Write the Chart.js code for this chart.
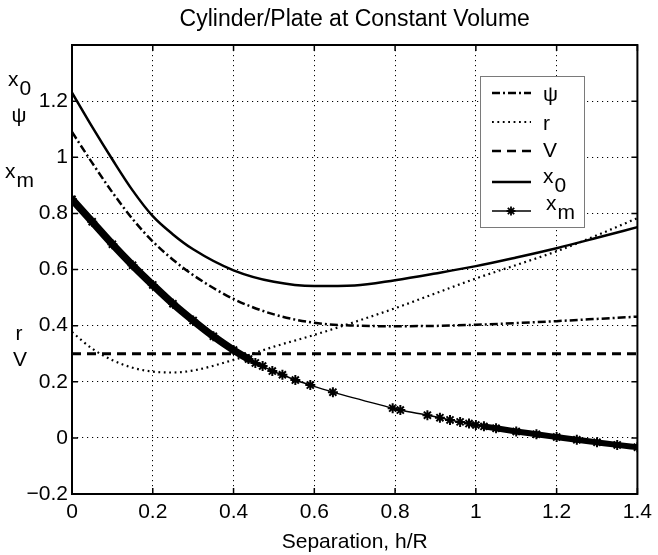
<!DOCTYPE html>
<html>
<head>
<meta charset="utf-8">
<script src="https://cdn.jsdelivr.net/npm/chart.js@4.4.1/dist/chart.umd.min.js"></script>
<style>
  html, body { margin: 0; padding: 0; background: #fff; }
  #wrap { position: relative; width: 658px; height: 555px; }
</style>
</head>
<body>
<div id="wrap"><canvas id="sepChart"></canvas></div>
<script>
// separation h/R, shared by psi, r, V and x0
const sepX = [0, 0.05, 0.1, 0.15, 0.2, 0.25, 0.3, 0.4, 0.5, 0.6, 0.7, 0.8, 0.9, 1.0, 1.1, 1.2, 1.3, 1.4];
const psiVals = [1.09, 0.98, 0.875, 0.78, 0.70, 0.635, 0.58, 0.495, 0.44, 0.41, 0.40, 0.398, 0.399, 0.403, 0.409, 0.416, 0.424, 0.432];
const rVals = [0.377, 0.318, 0.277, 0.25, 0.236, 0.233, 0.24, 0.278, 0.325, 0.367, 0.413, 0.462, 0.515, 0.568, 0.616, 0.665, 0.722, 0.783];
const vVals = [0.3, 0.3, 0.3, 0.3, 0.3, 0.3, 0.3, 0.3, 0.3, 0.3, 0.3, 0.3, 0.3, 0.3, 0.3, 0.3, 0.3, 0.3];
const x0Vals = [1.23, 1.108, 0.992, 0.882, 0.79, 0.725, 0.672, 0.597, 0.556, 0.541, 0.543, 0.562, 0.586, 0.612, 0.643, 0.676, 0.713, 0.751];

// xm comes from the solver steps, so it has its own x values
const xmX = [0, 0.05, 0.1, 0.15, 0.2, 0.25, 0.3, 0.35, 0.4, 0.437, 0.454, 0.472, 0.496, 0.521, 0.553, 0.590, 0.646, 0.794, 0.813, 0.880, 0.911, 0.936, 0.961, 0.983, 1.0, 1.02, 1.05, 1.1, 1.15, 1.2, 1.25, 1.3, 1.35, 1.4];
const xmY = [0.85, 0.77, 0.69, 0.615, 0.545, 0.478, 0.418, 0.362, 0.313, 0.281, 0.267, 0.256, 0.238, 0.225, 0.206, 0.188, 0.163, 0.106, 0.099, 0.081, 0.072, 0.064, 0.057, 0.051, 0.046, 0.041, 0.034, 0.023, 0.013, 0.003, -0.007, -0.016, -0.025, -0.033];

const labelMain = ["ψ", "r", "V", "x", "x"];
const labelSub = ["", "", "", "0", "m"];

const xTicks = [0, 0.2, 0.4, 0.6, 0.8, 1, 1.2, 1.4];
const yTicks = [-0.2, 0, 0.2, 0.4, 0.6, 0.8, 1, 1.2];

const FONT = "'Liberation Sans', Arial, Helvetica, sans-serif";

function pts(xs, ys) {
    return xs.map((v, i) => ({ x: v, y: ys[i] }));
}

function fmt(v) {
    const s = String(Math.round(v * 10) / 10);
    return v < 0 ? "\u2212" + s.slice(1) : s;
}

// "x" with a lowered subscript, like the matlab labels
function drawLabel(ctx, main, sub, x, y) {
    ctx.textAlign = "left";
    ctx.textBaseline = "alphabetic";
    ctx.fillText(main, x, y);
    if (sub) {
        ctx.fillText(sub, x + ctx.measureText(main).width + 1, y + 9);
    }
}

function drawStar(ctx, x, y, r) {
    ctx.beginPath();
    for (let k = 0; k < 4; k++) {
        const a = k * Math.PI / 4;
        ctx.moveTo(x - r * Math.cos(a), y - r * Math.sin(a));
        ctx.lineTo(x + r * Math.cos(a), y + r * Math.sin(a));
    }
    ctx.stroke();
}

const framePlugin = {
    id: "frame",
    afterDatasetsDraw(chart) {
        const { ctx, chartArea: a, scales } = chart;
        const xs = scales.x, ys = scales.y;
        ctx.save();
        ctx.strokeStyle = "#000";
        ctx.fillStyle = "#000";
        ctx.setLineDash([]);

        // inward tick marks on all four sides
        ctx.lineWidth = 1.5;
        ctx.beginPath();
        xs.ticks.forEach(t => {
            const p = xs.getPixelForValue(t.value);
            ctx.moveTo(p, a.bottom); ctx.lineTo(p, a.bottom - 6);
            ctx.moveTo(p, a.top); ctx.lineTo(p, a.top + 6);
        });
        ys.ticks.forEach(t => {
            const p = ys.getPixelForValue(t.value);
            ctx.moveTo(a.left, p); ctx.lineTo(a.left + 6, p);
            ctx.moveTo(a.right, p); ctx.lineTo(a.right - 6, p);
        });
        ctx.stroke();

        ctx.lineWidth = 2;
        ctx.strokeRect(a.left, a.top, a.width, a.height);

        // legend box
        const lx = 480, ly = 76, lw = 104, lh = 151;
        ctx.fillStyle = "#fff";
        ctx.fillRect(lx, ly, lw, lh);
        ctx.lineWidth = 1;
        ctx.strokeStyle = "#7a7a7a";
        ctx.strokeRect(lx + 0.5, ly + 0.5, lw, lh);

        const rowY = [93, 122, 151, 182, 211];
        const textY = [95, 130, 157, 183, 210];
        ctx.font = "21px " + FONT;
        chart.data.datasets.forEach((ds, i) => {
            ctx.strokeStyle = "#000";
            ctx.lineWidth = Math.min(ds.borderWidth, 2.5);
            ctx.setLineDash(ds.borderDash || []);
            ctx.beginPath();
            ctx.moveTo(492, rowY[i]);
            ctx.lineTo(531, rowY[i]);
            ctx.stroke();
            ctx.setLineDash([]);
            if (ds.pointStyle === "star") {
                ctx.lineWidth = 1.8;
                drawStar(ctx, 511, rowY[i], 4.5);
            }
            ctx.fillStyle = "#000";
            if (i === 0) {
                ctx.textAlign = "left";
                ctx.textBaseline = "middle";
                ctx.fillText(labelMain[i], 543, textY[i]);
            } else {
                drawLabel(ctx, labelMain[i], labelSub[i], i === 4 ? 546 : 543, textY[i]);
            }
        });

        // curve names along the y axis
        ctx.fillStyle = "#000";
        drawLabel(ctx, "x", "0", 8, 86);
        ctx.textAlign = "center";
        ctx.textBaseline = "middle";
        ctx.fillText("ψ", 19, 116);
        drawLabel(ctx, "x", "m", 5, 178);
        ctx.textAlign = "center";
        ctx.textBaseline = "middle";
        ctx.fillText("r", 19, 334);
        ctx.fillText("V", 20, 360);

        ctx.restore();
    }
};

let sepChart = null;

function createSepChart() {

    const canvas = document.getElementById("sepChart");
    if (!canvas) return;

    if (sepChart) {
        sepChart.destroy();
    }

    sepChart = new Chart(canvas, {

        type: "line",

        data: {
            datasets: [
                {
                    label: "ψ",
                    data: pts(sepX, psiVals),
                    borderColor: "#000",
                    borderWidth: 2.5,
                    borderDash: [8, 3, 2, 3],
                    pointRadius: 0,
                    cubicInterpolationMode: "monotone"
                },
                {
                    label: "r",
                    data: pts(sepX, rVals),
                    borderColor: "#000",
                    borderWidth: 2.2,
                    borderDash: [1.8, 3.6],
                    pointRadius: 0,
                    cubicInterpolationMode: "monotone"
                },
                {
                    label: "V",
                    data: pts(sepX, vVals),
                    borderColor: "#000",
                    borderWidth: 3,
                    borderDash: [9, 6],
                    pointRadius: 0
                },
                {
                    label: "x0",
                    data: pts(sepX, x0Vals),
                    borderColor: "#000",
                    borderWidth: 2.5,
                    pointRadius: 0,
                    cubicInterpolationMode: "monotone"
                },
                {
                    label: "xm",
                    data: pts(xmX, xmY),
                    borderColor: "#000",
                    borderWidth: 1.5,
                    borderJoinStyle: "round",
                    borderCapStyle: "round",
                    pointStyle: "star",
                    pointRadius: 5,
                    pointBorderWidth: 2,
                    pointBorderColor: "#000",
                    pointBackgroundColor: "#000",
                    cubicInterpolationMode: "monotone",
                    segment: {
                        // the solver steps pile up here, so the markers form a band
                        borderWidth: c => c.p1.parsed.x <= 0.4371 ? 7.5 : (c.p0.parsed.x >= 1.019 ? 6 : 1.5)
                    }
                }
            ]
        },

        options: {
            responsive: true,
            maintainAspectRatio: false,
            animation: false,
            layout: {
                padding: { top: 0, right: 16, bottom: 0, left: 0 }
            },
            plugins: {
                legend: { display: false },
                tooltip: { enabled: false },
                title: {
                    display: true,
                    fullSize: false,
                    text: "Cylinder/Plate at Constant Volume",
                    color: "#000",
                    font: { family: FONT, size: 23, weight: "normal" },
                    padding: { top: 6, bottom: 11.4 }
                }
            },
            scales: {
                x: {
                    type: "linear",
                    min: 0,
                    max: 1.4,
                    afterBuildTicks: s => { s.ticks = xTicks.map(v => ({ value: v })); },
                    afterFit: s => { s.height = 61; },
                    grid: { color: "#000", lineWidth: 1, drawTicks: false },
                    border: { display: false, dash: [1.2, 3.8] },
                    ticks: {
                        color: "#000",
                        padding: 6,
                        maxRotation: 0,
                        font: { family: FONT, size: 21 },
                        callback: v => fmt(v)
                    },
                    title: {
                        display: true,
                        text: "Separation, h/R",
                        color: "#000",
                        font: { family: FONT, size: 21 },
                        padding: { top: 0, bottom: 0 }
                    }
                },
                y: {
                    min: -0.2,
                    max: 1.4,
                    afterBuildTicks: s => { s.ticks = yTicks.map(v => ({ value: v })); },
                    afterFit: s => { s.width = 72; },
                    grid: { color: "#000", lineWidth: 1, drawTicks: false },
                    border: { display: false, dash: [1.2, 3.8] },
                    ticks: {
                        color: "#000",
                        padding: 4,
                        font: { family: FONT, size: 21 },
                        callback: v => fmt(v)
                    }
                }
            }
        },

        plugins: [framePlugin]

    });

}

createSepChart();
</script>
</body>
</html>
